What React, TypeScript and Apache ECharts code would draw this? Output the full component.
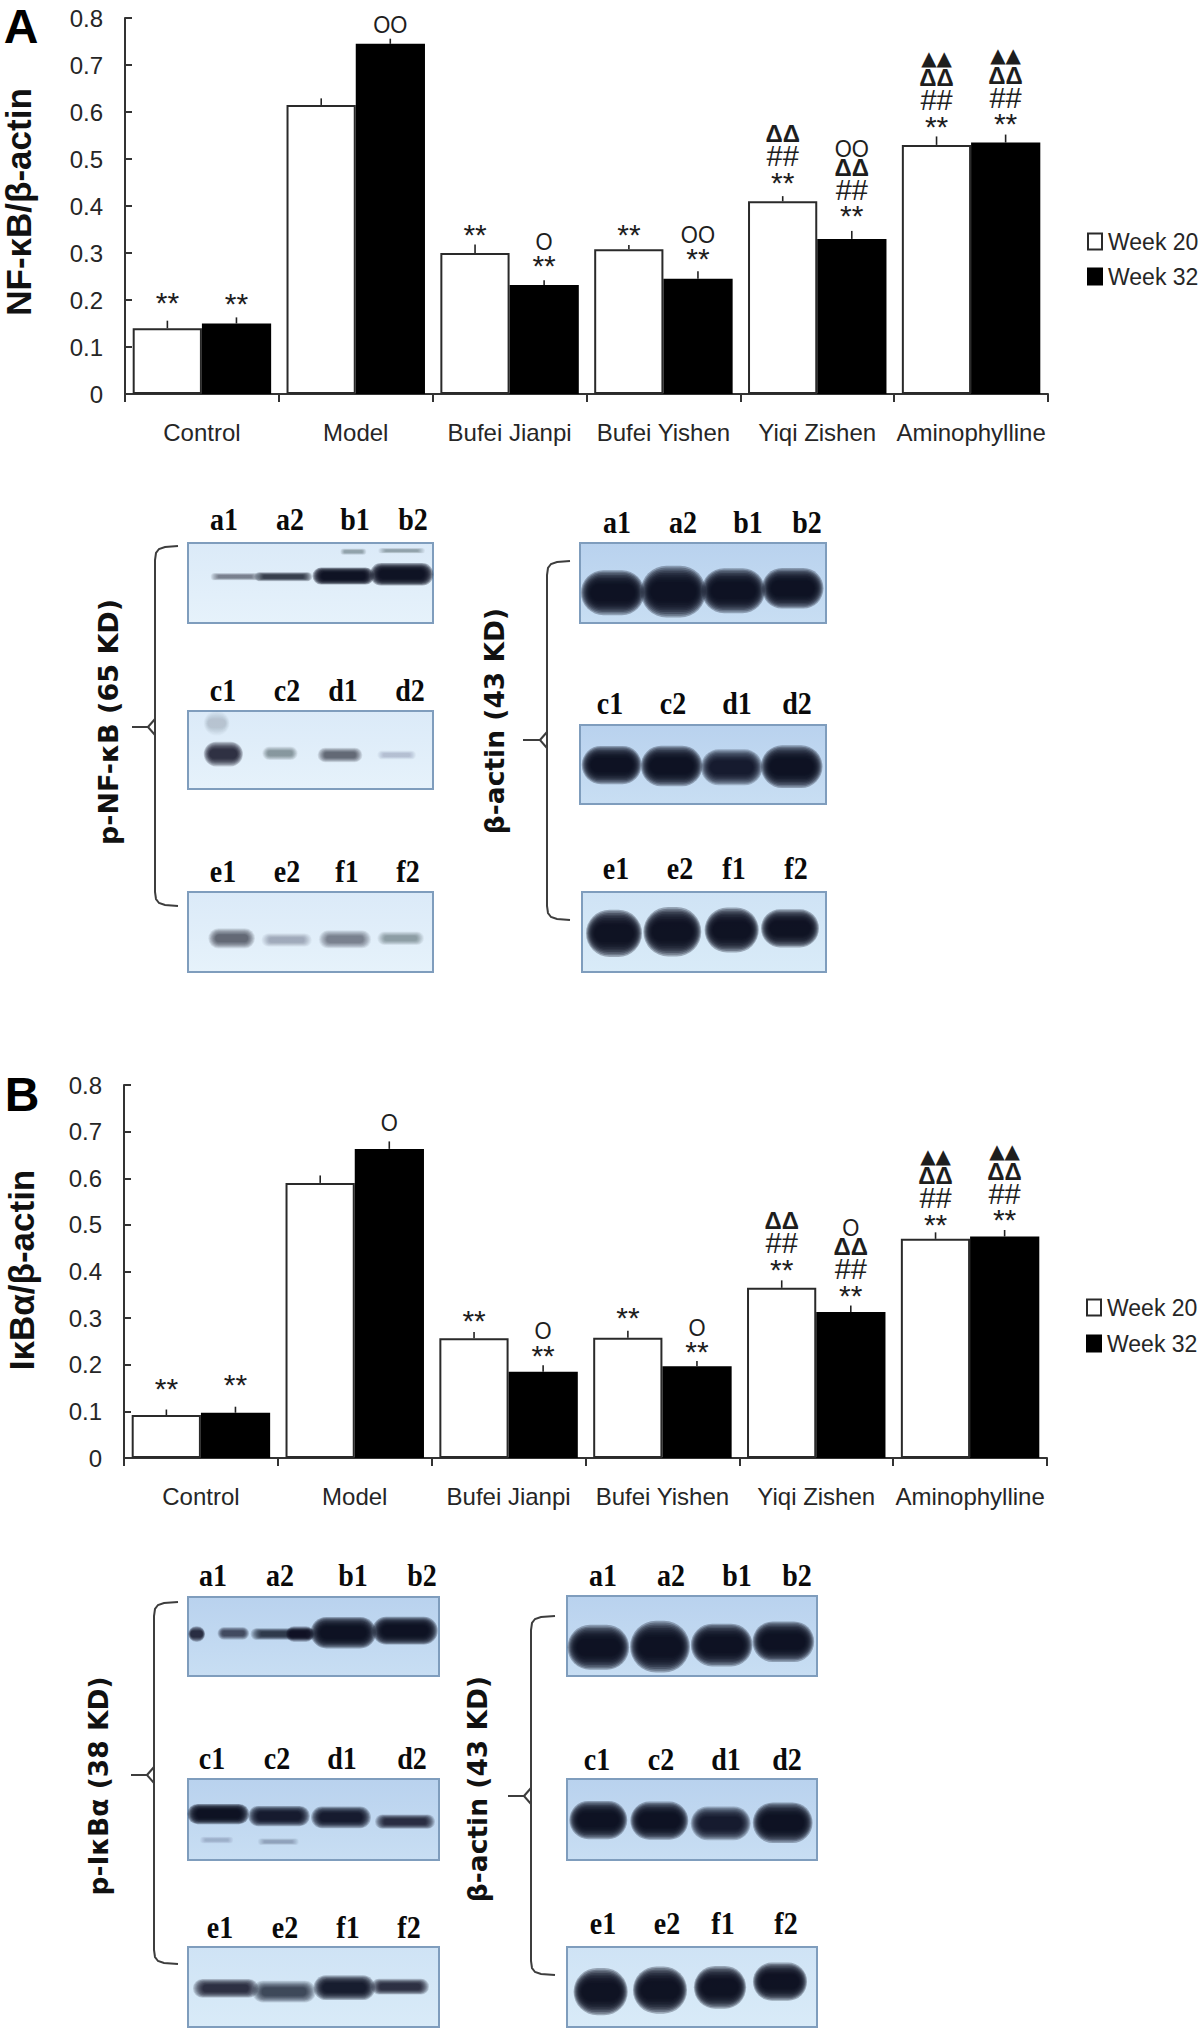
import React, { useEffect, useRef } from "react";
import * as echarts from "echarts";

const categories = ["Control", "Model", "Bufei Jianpi", "Bufei Yishen", "Yiqi Zishen", "Aminophylline"];
const yTicks = { min: 0, max: 0.8, interval: 0.1 };

const nfWeek20 = [0.14, 0.615, 0.3, 0.308, 0.41, 0.53];
const nfWeek32 = [0.15, 0.745, 0.232, 0.245, 0.33, 0.535];
const nfErr20 = [0.016, 0.014, 0.018, 0.009, 0.011, 0.018];
const nfErr32 = [0.013, 0.011, 0.01, 0.016, 0.017, 0.017];
const nfMarks20 = [["**"], [], ["**"], ["**"], ["**", "##", "ΔΔ"], ["**", "##", "ΔΔ", "▲▲"]];
const nfMarks32 = [["**"], ["OO"], ["**", "O"], ["**", "OO"], ["**", "##", "ΔΔ", "OO"], ["**", "##", "ΔΔ", "▲▲"]];

const ikbWeek20 = [0.092, 0.59, 0.257, 0.258, 0.365, 0.47];
const ikbWeek32 = [0.097, 0.663, 0.185, 0.197, 0.313, 0.475];
const ikbErr20 = [0.012, 0.016, 0.013, 0.015, 0.016, 0.014];
const ikbErr32 = [0.013, 0.016, 0.014, 0.011, 0.014, 0.014];
const ikbMarks20 = [["**"], [], ["**"], ["**"], ["**", "##", "ΔΔ"], ["**", "##", "ΔΔ", "▲▲"]];
const ikbMarks32 = [["**"], ["O"], ["**", "O"], ["**", "O"], ["**", "##", "ΔΔ", "O"], ["**", "##", "ΔΔ", "▲▲"]];

// px gap between bar top and the centre of the lowest mark
const gapNf20 = [28.3, 0, 21.3, 17.4, 22.3, 21.8];
const gapNf32 = [22.6, 18.3, 22.6, 23.5, 26.1, 21.8];
const gapIkb20 = [29.6, 0, 20.9, 23.5, 21.8, 17.4];
const gapIkb32 = [31, 25.3, 19.7, 17.4, 20, 20];

const laneRows = [["a1", "a2", "b1", "b2"], ["c1", "c2", "d1", "d2"], ["e1", "e2", "f1", "f2"]];

const SANS = "Liberation Sans";
const SERIF = "Liberation Serif";
const DEJAVU = "DejaVu Sans";
const INK = "#262626";

const glyphStyle: Record<string, any> = {
  "**": { size: 30, family: SANS, weight: "normal", dy: 3, sy: 1, step: 20 },
  "##": { size: 29, family: SANS, weight: "normal", dy: -3, sy: 1, step: 23.5 },
  "ΔΔ": { size: 24, family: SANS, weight: "bold", dy: -2, sy: 1, step: 20 },
  "▲▲": { size: 20, family: DEJAVU, weight: "normal", dy: -2, sy: 1, step: 19 },
  OO: { size: 22, family: SANS, weight: "normal", dy: -1, sy: 1.1, step: 22 },
  O: { size: 22, family: SANS, weight: "normal", dy: -1, sy: 1.1, step: 22 },
};

function errorAndMarks(grid: number, side: number, values: number[], errs: number[], marks: string[][], gaps: number[]) {
  return {
    type: "custom",
    xAxisIndex: grid,
    yAxisIndex: grid,
    silent: true,
    clip: false,
    z: 5,
    encode: { x: 0, y: 1 },
    data: values.map((v, i) => [i, v, errs[i]]),
    renderItem: (params: any, api: any) => {
      const i = params.dataIndex;
      const band = api.size([1, 0])[0];
      const x = api.coord([i, 0])[0] + side * band * 0.2245;
      const top = api.coord([i, api.value(1)])[1];
      const errTop = api.coord([i, api.value(1) + api.value(2)])[1];
      const children: any[] = [
        { type: "line", shape: { x1: x, y1: top, x2: x, y2: errTop }, style: { stroke: "#222", lineWidth: 1.6 } },
      ];
      let off = gaps[i];
      marks[i].forEach((m) => {
        const g = glyphStyle[m];
        children.push({
          type: "text",
          x,
          y: top - off + g.dy,
          scaleY: g.sy,
          style: {
            text: m,
            fontSize: g.size,
            fontFamily: g.family,
            fontWeight: g.weight,
            fill: "#1e1e1e",
            align: "center",
            verticalAlign: "middle",
          },
        });
        off += g.step;
      });
      return { type: "group", children };
    },
  };
}

function bars(grid: number, name: string, values: number[], fill: string) {
  return {
    type: "bar",
    name,
    xAxisIndex: grid,
    yAxisIndex: grid,
    barWidth: "45%",
    barGap: 0,
    data: values,
    itemStyle: { color: fill, borderColor: fill === "#000000" ? "#000000" : "#2a2a2a", borderWidth: 2 },
  };
}

const axisLine = { show: true, lineStyle: { color: "#333", width: 2 } };
const xAxis = (grid: number) => ({
  type: "category",
  gridIndex: grid,
  data: categories,
  axisLine,
  axisTick: { show: true, length: 8, lineStyle: { color: "#333", width: 2 } },
  axisLabel: { interval: 0, margin: 26, fontSize: 24, fontFamily: SANS, color: INK, hideOverlap: false },
  splitLine: { show: false },
});
const yAxis = (grid: number) => ({
  type: "value",
  gridIndex: grid,
  ...yTicks,
  axisLine,
  axisTick: { show: true, inside: true, length: 7, lineStyle: { color: "#333", width: 2 } },
  axisLabel: { margin: 22, fontSize: 24, fontFamily: SANS, color: INK },
  splitLine: { show: false },
});
const legend = (top: number, left: number, gap: number) => ({
  left,
  top,
  orient: "vertical",
  icon: "rect",
  itemWidth: 14,
  itemHeight: 16,
  itemGap: gap,
  selectedMode: false,
  padding: 0,
  data: ["Week 20", "Week 32"],
  textStyle: { fontSize: 23, fontFamily: SANS, color: INK, padding: [0, 0, 0, 1] },
});

// ---- blot panels: band positions are in crop coordinates at 3x
type Band = [number, number, number, number, number];
function band([zx, zy, w, h, a]: Band, ox: number, oy: number) {
  const layers = 10;
  const p = 1 - Math.pow(1 - a * 0.97, 1 / layers);
  const out: any[] = [];
  for (let k = 0; k < layers; k++) {
    const t = k / (layers - 1);
    const rw = (w / 3) * (1.12 - 0.34 * t);
    const rh = (h / 3) * (1.35 - 0.85 * t);
    out.push({
      type: "rect",
      silent: true,
      z: 3,
      shape: {
        x: ox + zx / 3 - rw / 2,
        y: oy + zy / 3 - rh / 2,
        width: rw,
        height: rh,
        r: Math.min(rw, rh) * 0.5,
      },
      style: { fill: `rgba(10,14,30,${p.toFixed(3)})` },
    });
  }
  return out;
}

function panel(x0: number, x1: number, y0: number, y1: number, c1: string, c2: string) {
  return {
    type: "rect",
    silent: true,
    z: 2,
    shape: { x: x0, y: y0, width: x1 - x0, height: y1 - y0 },
    style: {
      fill: { type: "linear", x: 0, y: 0, x2: 0, y2: 1, colorStops: [{ offset: 0, color: c1 }, { offset: 1, color: c2 }] },
      stroke: "#7f9dbd",
      lineWidth: 2,
    },
  };
}

function brace(x: number, top: number, mid: number, bottom: number, endX: number, stubX: number) {
  const stroke = { stroke: "#3d3d3d", lineWidth: 2, fill: "none" };
  return [
    {
      type: "polyline",
      silent: true,
      shape: {
        points: [
          [endX, top], [x + 10, top + 1], [x + 4, top + 3], [x + 1, top + 7], [x, top + 14],
          [x, bottom - 14], [x + 1, bottom - 7], [x + 4, bottom - 3], [x + 10, bottom - 1], [endX, bottom],
        ],
      },
      style: stroke,
    },
    {
      type: "polyline",
      silent: true,
      shape: { points: [[stubX, mid], [x - 7, mid], [x, mid + 8]] },
      style: stroke,
    },
    {
      type: "line",
      silent: true,
      shape: { x1: x - 7, y1: mid, x2: x, y2: mid - 8 },
      style: stroke,
    },
  ];
}

const rotated = (text: string, x: number, y: number, size: number, family: string) => ({
  type: "text",
  x,
  y,
  rotation: Math.PI / 2,
  silent: true,
  style: { text, fontSize: size, fontWeight: "bold", fontFamily: family, fill: "#111", align: "center", verticalAlign: "middle" },
});
const panelLetter = (text: string, x: number, y: number) => ({
  type: "text",
  x,
  y,
  silent: true,
  style: { text, fontSize: 48, fontWeight: "bold", fontFamily: SANS, fill: "#000", align: "center", verticalAlign: "middle" },
});
const laneLabels = (row: string[], xs: number[], y: number) =>
  row.map((t, i) => ({
    type: "text",
    x: xs[i],
    y,
    scaleY: 1.15,
    silent: true,
    style: { text: t, fontSize: 28, fontWeight: "bold", fontFamily: SERIF, fill: "#0a0a0a", align: "center", verticalAlign: "middle" },
  }));

const PALE: [string, string] = ["#dbeaf8", "#e6f2fb"];
const MIDBLUE: [string, string] = ["#b9d2ee", "#c8def3"];
const LIGHTBLUE: [string, string] = ["#cfe3f5", "#d9ebf8"];

// p-NF-κB
const nfBands: Band[] = [
  [465, 290, 130, 16, 0.5], [610, 290, 155, 20, 0.8], [790, 288, 165, 38, 1], [965, 283, 170, 50, 1],
  [820, 215, 70, 14, 0.35], [965, 212, 125, 12, 0.35],
  [430, 822, 105, 55, 0.85], [410, 730, 70, 55, 0.15], [600, 820, 95, 30, 0.4], [780, 825, 120, 32, 0.6], [950, 825, 105, 20, 0.18],
  [455, 1375, 125, 45, 0.6], [620, 1380, 135, 30, 0.28], [795, 1378, 140, 40, 0.5], [962, 1375, 125, 30, 0.38],
];
// β-actin (A)
const actinABands: Band[] = [
  [428, 338, 170, 100, 1], [610, 335, 175, 115, 1], [790, 332, 170, 100, 1], [968, 325, 165, 90, 1],
  [425, 855, 160, 85, 1], [605, 858, 165, 90, 1], [785, 862, 165, 80, 0.95], [965, 860, 165, 95, 1],
  [432, 1360, 150, 105, 1], [607, 1355, 155, 110, 1], [785, 1350, 145, 100, 1], [960, 1345, 155, 85, 1],
];
// p-IκBα
const ikbBands: Band[] = [
  [350, 282, 45, 35, 0.85], [460, 280, 85, 28, 0.7], [610, 282, 175, 26, 0.8], [660, 282, 75, 35, 0.85], [790, 278, 175, 70, 1], [975, 272, 175, 62, 1],
  [415, 822, 165, 45, 1], [597, 828, 165, 45, 0.95], [783, 832, 160, 48, 0.95], [975, 845, 160, 32, 0.85],
  [410, 900, 90, 15, 0.2], [595, 905, 110, 15, 0.25],
  [437, 1345, 175, 42, 0.85], [612, 1355, 170, 48, 0.75], [793, 1343, 165, 55, 0.95], [960, 1340, 155, 35, 0.85],
];
// β-actin (B)
const actinBBands: Band[] = [
  [415, 322, 165, 100, 1], [600, 320, 160, 115, 1], [785, 315, 165, 95, 1], [970, 305, 165, 90, 1],
  [415, 840, 155, 85, 1], [598, 842, 155, 85, 1], [782, 850, 160, 75, 0.95], [968, 848, 160, 90, 1],
  [422, 1355, 145, 105, 1], [600, 1350, 145, 105, 1], [780, 1342, 140, 95, 1], [960, 1325, 145, 85, 1],
];

const graphicElements: any[] = [
  panelLetter("A", 21, 26),
  panelLetter("B", 22, 1094),
  rotated("NF-κB/β-actin", 18, 202, 35, SANS),
  rotated("IκBα/β-actin", 21, 1270, 35, SANS),

  panel(188, 433, 543, 623, ...PALE),
  panel(188, 433, 711, 789, ...PALE),
  panel(188, 433, 892, 972, ...PALE),
  ...nfBands.flatMap((b) => band(b, 80, 480)),
  ...laneLabels(laneRows[0], [224, 290, 355, 413], 519),
  ...laneLabels(laneRows[1], [223, 287, 343, 410], 690),
  ...laneLabels(laneRows[2], [223, 287, 347, 408], 871),
  ...brace(155, 546, 727, 906, 178, 132),
  rotated("p-NF-κB (65 KD)", 108, 722, 27, DEJAVU),

  panel(580, 826, 543, 623, ...MIDBLUE),
  panel(580, 826, 725, 804, ...MIDBLUE),
  panel(582, 826, 892, 972, ...LIGHTBLUE),
  ...actinABands.flatMap((b) => band(b, 470, 480)),
  ...laneLabels(laneRows[0], [617, 683, 748, 807], 522),
  ...laneLabels(laneRows[1], [610, 673, 737, 797], 703),
  ...laneLabels(laneRows[2], [616, 680, 734, 796], 868),
  ...brace(547, 561, 740, 920, 570, 523),
  rotated("β-actin (43 KD)", 494, 721, 26.5, DEJAVU),

  panel(188, 439, 1597, 1676, ...MIDBLUE),
  panel(188, 439, 1779, 1860, ...MIDBLUE),
  panel(188, 439, 1947, 2027, ...LIGHTBLUE),
  ...ikbBands.flatMap((b) => band(b, 80, 1540)),
  ...laneLabels(laneRows[0], [213, 280, 353, 422], 1575),
  ...laneLabels(laneRows[1], [212, 277, 342, 412], 1758),
  ...laneLabels(laneRows[2], [220, 285, 348, 409], 1927),
  ...brace(154, 1602, 1775, 1964, 178, 131),
  rotated("p-IκBα (38 KD)", 98, 1786, 26.5, DEJAVU),

  panel(567, 817, 1596, 1676, ...MIDBLUE),
  panel(567, 817, 1779, 1860, ...MIDBLUE),
  panel(567, 817, 1947, 2027, ...LIGHTBLUE),
  ...actinBBands.flatMap((b) => band(b, 460, 1540)),
  ...laneLabels(laneRows[0], [603, 671, 737, 797], 1575),
  ...laneLabels(laneRows[1], [597, 661, 726, 787], 1759),
  ...laneLabels(laneRows[2], [603, 667, 723, 786], 1923),
  ...brace(531, 1616, 1796, 1975, 555, 508),
  rotated("β-actin (43 KD)", 477, 1789, 26.5, DEJAVU),
];

export default function App() {
  const ref = useRef<HTMLDivElement>(null);
  useEffect(() => {
    const chart = echarts.init(ref.current!, null, { renderer: "svg" });
    chart.setOption({
      animation: false,
      backgroundColor: "#ffffff",
      grid: [
        { left: 125, top: 18, width: 923, height: 376 },
        { left: 124, top: 1085, width: 923, height: 373 },
      ],
      xAxis: [xAxis(0), xAxis(1)],
      yAxis: [yAxis(0), yAxis(1)],
      legend: [legend(230, 1087, 12), legend(1296, 1086, 13)],
      series: [
        bars(0, "Week 20", nfWeek20, "#ffffff"),
        bars(0, "Week 32", nfWeek32, "#000000"),
        bars(1, "Week 20", ikbWeek20, "#ffffff"),
        bars(1, "Week 32", ikbWeek32, "#000000"),
        errorAndMarks(0, -1, nfWeek20, nfErr20, nfMarks20, gapNf20),
        errorAndMarks(0, 1, nfWeek32, nfErr32, nfMarks32, gapNf32),
        errorAndMarks(1, -1, ikbWeek20, ikbErr20, ikbMarks20, gapIkb20),
        errorAndMarks(1, 1, ikbWeek32, ikbErr32, ikbMarks32, gapIkb32),
      ],
      graphic: { elements: graphicElements },
    });
    return () => chart.dispose();
  }, []);
  return (
    <div style={{ position: "absolute", left: 0, top: 0, width: 1200, height: 2029, background: "#fff" }}>
      <div ref={ref} style={{ width: 1200, height: 2029 }} />
    </div>
  );
}
